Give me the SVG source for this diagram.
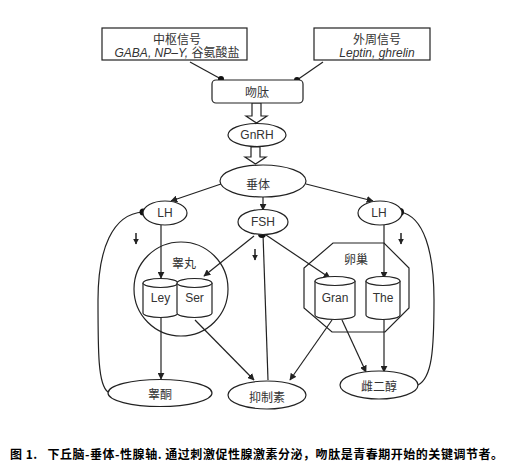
<svg xmlns="http://www.w3.org/2000/svg" width="531" height="475" viewBox="0 0 531 475">
<defs>
<style>
.s{fill:none;stroke:#222;stroke-width:1.2}
.w{fill:#fff;stroke:#222;stroke-width:1.2}
.t{font-family:"Liberation Sans",Arial,"Noto Sans CJK SC",sans-serif;font-size:12px;fill:#333;text-anchor:middle;dominant-baseline:central}
.c{font-family:"Noto Sans CJK SC","Liberation Sans",sans-serif;font-size:12px;fill:#333;text-anchor:middle;dominant-baseline:central}
.i{font-style:italic}
.a{fill:none;stroke:#222;stroke-width:1.2;marker-end:url(#ah)}
.d{fill:none;stroke:#222;stroke-width:1.5;marker-end:url(#sa)}
</style>
<marker id="ah" viewBox="0 0 10 10" refX="9" refY="5" markerWidth="7" markerHeight="7" markerUnits="userSpaceOnUse" orient="auto">
<path d="M0,0 L10,5 L0,10 z" fill="#222"/>
</marker>
<marker id="sa" viewBox="0 0 10 10" refX="9" refY="5" markerWidth="6" markerHeight="6" markerUnits="userSpaceOnUse" orient="auto">
<path d="M0,0 L10,5 L0,10 z" fill="#222"/>
</marker>
</defs>
<rect width="531" height="475" fill="#fff"/>

<g id="connectors">
<line class="s" x1="190" y1="62" x2="221" y2="79"/>
<line class="s" x1="323" y1="62" x2="297" y2="80"/>
<polygon class="w" points="252,103 252,116 246,116 256.5,123 267,116 261,116 261,103"/>
<polygon class="w" points="251,147 251,157 245,157 255.5,164 266,157 260,157 260,147"/>
<line class="a" x1="221" y1="184" x2="171" y2="201"/>
<line class="a" x1="263" y1="197" x2="263" y2="210"/>
<line class="a" x1="306" y1="184" x2="373" y2="201"/>
<line class="a" x1="161" y1="225" x2="161" y2="278"/>
<line class="a" x1="384" y1="225" x2="384" y2="278"/>
<line class="a" x1="254" y1="236" x2="204" y2="276"/>
<line class="a" x1="266" y1="235" x2="330" y2="278"/>
<line class="s" x1="263" y1="234" x2="268" y2="380"/>
<line class="a" x1="161" y1="318" x2="161" y2="379"/>
<line class="a" x1="195" y1="320" x2="254" y2="380"/>
<line class="a" x1="332" y1="320" x2="290" y2="380"/>
<line class="a" x1="342" y1="320" x2="366" y2="372"/>
<line class="a" x1="384" y1="320" x2="384" y2="372"/>
<path class="s" d="M143,212 C112,214 98,250 98,300 C98,352 98,385 108,392"/>
<path class="s" d="M400,212 C424,216 434,252 434,300 C434,350 432,378 418,385"/>
<line class="d" x1="136" y1="233" x2="136" y2="244"/>
<line class="d" x1="255" y1="249" x2="255" y2="260"/>
<line class="d" x1="401" y1="233" x2="401" y2="244"/>
<circle cx="221" cy="79" r="3" fill="#111"/>
<circle cx="297" cy="80" r="3" fill="#111"/>
<circle cx="143" cy="212" r="3.5" fill="#111"/>
<circle cx="400" cy="212" r="4" fill="#111"/>
<circle cx="262" cy="234" r="4" fill="#111"/>
</g>

<g id="central">
<rect class="w" x="102" y="28" width="145" height="32"/>
<text class="c" x="177" y="38">中枢信号</text>
<text class="t" x="177" y="53"><tspan class="i">GABA, NP–Y,</tspan> 谷氨酸盐</text>
</g>
<g id="peripheral">
<rect class="w" x="314" y="28" width="116" height="32"/>
<text class="c" x="377" y="38">外周信号</text>
<text class="t i" x="377" y="53" font-size="11.5">Leptin, ghrelin</text>
</g>
<g id="kisspeptin">
<rect class="w" x="212" y="80" width="91" height="23" rx="4"/>
<text class="c" x="257" y="91">吻肽</text>
</g>
<g id="gnrh">
<ellipse class="w" cx="257" cy="135" rx="29" ry="11.5"/>
<text class="t" x="257" y="135">GnRH</text>
</g>
<g id="pituitary">
<ellipse class="w" cx="263" cy="181" rx="43" ry="16"/>
<text class="c" x="258" y="183">垂体</text>
</g>
<g id="lh-left">
<ellipse class="w" cx="165" cy="213" rx="22" ry="12"/>
<text class="t" x="165" y="213">LH</text>
</g>
<g id="fsh">
<ellipse class="w" cx="263" cy="222" rx="25" ry="12.5"/>
<text class="t" x="263" y="222">FSH</text>
</g>
<g id="lh-right">
<ellipse class="w" cx="380" cy="213" rx="22" ry="12"/>
<text class="t" x="379" y="213">LH</text>
</g>
<g id="testis">
<circle class="s" cx="181" cy="289" r="47"/>
<text class="c" x="184" y="262">睾丸</text>
</g>
<g id="leydig">
<path class="w" d="M143,283 L143,313 A17.5,4.5 0 0 0 178,313 L178,283"/>
<ellipse class="w" cx="160.5" cy="283" rx="17.5" ry="4.5"/>
<text class="t" x="160.5" y="298">Ley</text>
</g>
<g id="sertoli">
<path class="w" d="M177,283 L177,313 A17.5,4.5 0 0 0 212,313 L212,283"/>
<ellipse class="w" cx="194.5" cy="283" rx="17.5" ry="4.5"/>
<text class="t" x="194.5" y="298">Ser</text>
</g>
<g id="ovary">
<polygon class="s" points="333,243 384,243 409,268 409,308 385,332 332,332 304,308 304,268"/>
<text class="c" x="356" y="258">卵巢</text>
</g>
<g id="granulosa">
<path class="w" d="M315,281 L315,315 A20,4.5 0 0 0 355,315 L355,281"/>
<ellipse class="w" cx="335" cy="281" rx="20" ry="4.5"/>
<text class="t" x="335" y="298">Gran</text>
</g>
<g id="theca">
<path class="w" d="M366,281 L366,315 A17,4.5 0 0 0 400,315 L400,281"/>
<ellipse class="w" cx="383" cy="281" rx="17" ry="4.5"/>
<text class="t" x="383" y="298">The</text>
</g>
<g id="testosterone">
<ellipse class="w" cx="160" cy="393" rx="52" ry="13.5"/>
<text class="c" x="160" y="393">睾酮</text>
</g>
<g id="inhibin">
<ellipse class="w" cx="267" cy="395" rx="39" ry="14"/>
<text class="c" x="267" y="396">抑制素</text>
</g>
<g id="estradiol">
<ellipse class="w" cx="379" cy="385" rx="39" ry="14"/>
<text class="c" x="379" y="385">雌二醇</text>
</g>
<text xml:space="preserve" x="10" y="453" font-family="'Noto Sans CJK SC','Liberation Sans',sans-serif" font-size="12" font-weight="bold" fill="#000" dominant-baseline="central" textLength="493" lengthAdjust="spacing">图 1.   下丘脑-垂体-性腺轴. 通过刺激促性腺激素分泌，吻肽是青春期开始的关键调节者。</text>
</svg>
